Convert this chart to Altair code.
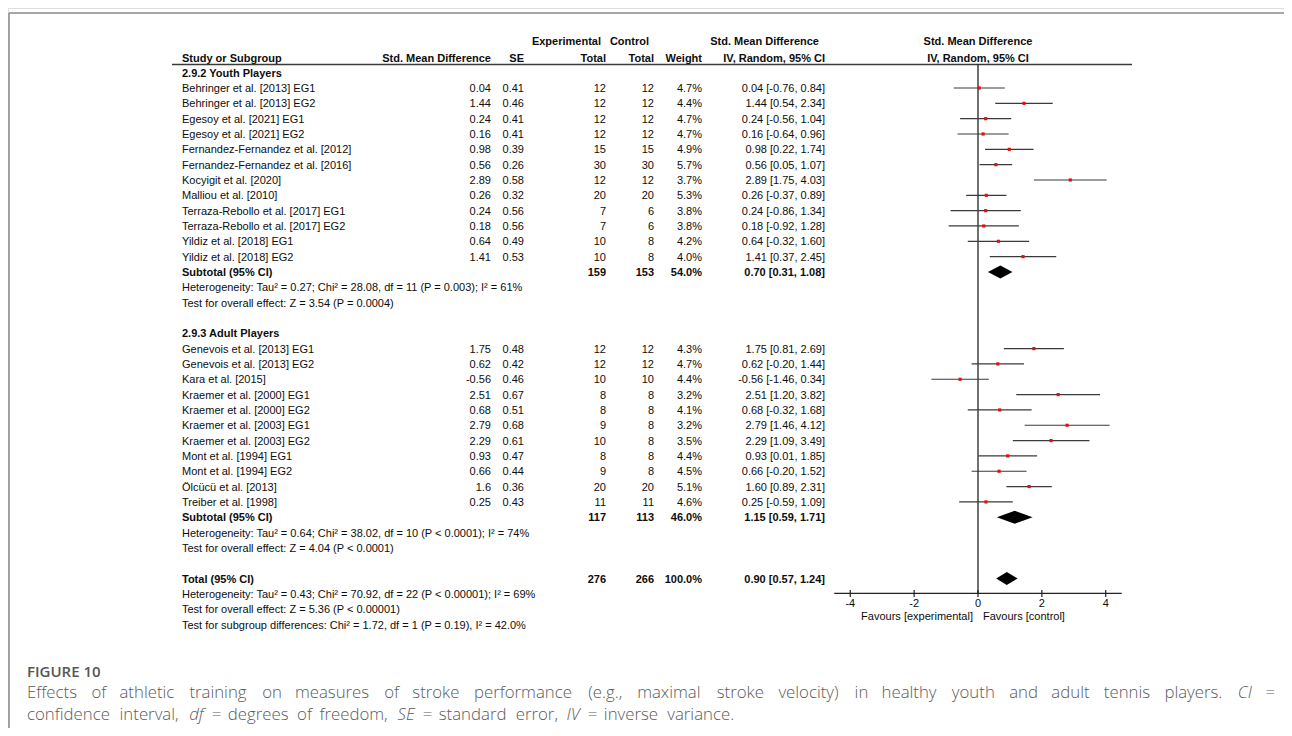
import altair as alt
import pandas as pd

# ---------------- data ----------------
youth_names = ["Behringer et al. [2013] EG1", "Behringer et al. [2013] EG2", "Egesoy et al. [2021] EG1",
               "Egesoy et al. [2021] EG2", "Fernandez-Fernandez et al. [2012]", "Fernandez-Fernandez et al. [2016]",
               "Kocyigit et al. [2020]", "Malliou et al. [2010]", "Terraza-Rebollo et al. [2017] EG1",
               "Terraza-Rebollo et al. [2017] EG2", "Yildiz et al. [2018] EG1", "Yildiz et al. [2018] EG2"]
youth_smd = [0.04, 1.44, 0.24, 0.16, 0.98, 0.56, 2.89, 0.26, 0.24, 0.18, 0.64, 1.41]
youth_se = [0.41, 0.46, 0.41, 0.41, 0.39, 0.26, 0.58, 0.32, 0.56, 0.56, 0.49, 0.53]
youth_exp_n = [12, 12, 12, 12, 15, 30, 12, 20, 7, 7, 10, 10]
youth_ctrl_n = [12, 12, 12, 12, 15, 30, 12, 20, 6, 6, 8, 8]
youth_weight = [4.7, 4.4, 4.7, 4.7, 4.9, 5.7, 3.7, 5.3, 3.8, 3.8, 4.2, 4.0]
youth_lo = [-0.76, 0.54, -0.56, -0.64, 0.22, 0.05, 1.75, -0.37, -0.86, -0.92, -0.32, 0.37]
youth_hi = [0.84, 2.34, 1.04, 0.96, 1.74, 1.07, 4.03, 0.89, 1.34, 1.28, 1.60, 2.45]

adult_names = ["Genevois et al. [2013] EG1", "Genevois et al. [2013] EG2", "Kara et al. [2015]",
               "Kraemer et al. [2000] EG1", "Kraemer et al. [2000] EG2", "Kraemer et al. [2003] EG1",
               "Kraemer et al. [2003] EG2", "Mont et al. [1994] EG1", "Mont et al. [1994] EG2",
               "Ölcücü et al. [2013]", "Treiber et al. [1998]"]
adult_smd = [1.75, 0.62, -0.56, 2.51, 0.68, 2.79, 2.29, 0.93, 0.66, 1.6, 0.25]
adult_se = [0.48, 0.42, 0.46, 0.67, 0.51, 0.68, 0.61, 0.47, 0.44, 0.36, 0.43]
adult_exp_n = [12, 12, 10, 8, 8, 9, 10, 8, 9, 20, 11]
adult_ctrl_n = [12, 12, 10, 8, 8, 8, 8, 8, 8, 20, 11]
adult_weight = [4.3, 4.7, 4.4, 3.2, 4.1, 3.2, 3.5, 4.4, 4.5, 5.1, 4.6]
adult_lo = [0.81, -0.20, -1.46, 1.20, -0.32, 1.46, 1.09, 0.01, -0.20, 0.89, -0.59]
adult_hi = [2.69, 1.44, 0.34, 3.82, 1.68, 4.12, 3.49, 1.85, 1.52, 2.31, 1.09]

summary_labels = ["Subtotal (95% CI)", "Subtotal (95% CI)", "Total (95% CI)"]
summary_exp_n = [159, 117, 276]
summary_ctrl_n = [153, 113, 266]
summary_weight = [54.0, 46.0, 100.0]
summary_est = [0.70, 1.15, 0.90]
summary_lo = [0.31, 0.59, 0.57]
summary_hi = [1.08, 1.71, 1.24]

group_labels = ["2.9.2 Youth Players", "2.9.3 Adult Players"]
stat_lines = [
    "Heterogeneity: Tau² = 0.27; Chi² = 28.08, df = 11 (P = 0.003); I² = 61%",
    "Test for overall effect: Z = 3.54 (P = 0.0004)",
    "Heterogeneity: Tau² = 0.64; Chi² = 38.02, df = 10 (P < 0.0001); I² = 74%",
    "Test for overall effect: Z = 4.04 (P < 0.0001)",
    "Heterogeneity: Tau² = 0.43; Chi² = 70.92, df = 22 (P < 0.00001); I² = 69%",
    "Test for overall effect: Z = 5.36 (P < 0.00001)",
    "Test for subgroup differences: Chi² = 1.72, df = 1 (P = 0.19), I² = 42.0%",
]
axis_ticks = [-4, -2, 0, 2, 4]
axis_extent = [-4.5, 4.5]

caption_label = "FIGURE 10"
caption_line1 = "Effects of athletic training on measures of stroke performance (e.g., maximal stroke velocity) in healthy youth and adult tennis players. *CI* ="
caption_line2 = "confidence interval, *df* = degrees of freedom, *SE* = standard error, *IV* = inverse variance."

# ---------------- layout ----------------
W, H = 1276, 720
Y0, STEP = 80.0, 15.33
FONT = "Liberation Sans"
TXT = "#0d0d0d"
XS = alt.Scale(domain=[-4.5, 4.5], range=[826.3, 1113.7])
YS = alt.Scale(domain=[-1, 35], range=[Y0 - STEP, Y0 + 35 * STEP])
PX = alt.Scale(domain=[0, W], range=[0, W])
PY = alt.Scale(domain=[0, H], range=[0, H])

youth_rows = list(range(0, 12))
adult_rows = list(range(17, 28))
summary_rows = [12, 28, 32]
group_rows = [-1, 16]
stat_rows = [13, 14, 29, 30, 33, 34, 35]

studies = pd.DataFrame({
    "row": youth_rows + adult_rows,
    "name": youth_names + adult_names,
    "smd": youth_smd + adult_smd,
    "se": youth_se + adult_se,
    "en": youth_exp_n + adult_exp_n,
    "cn": youth_ctrl_n + adult_ctrl_n,
    "w": youth_weight + adult_weight,
    "lo": youth_lo + adult_lo,
    "hi": youth_hi + adult_hi,
})
studies["smd_s"] = studies["smd"].map(lambda v: str(v))
studies["se_s"] = studies["se"].map(lambda v: f"{v:.2f}")
studies["w_s"] = studies["w"].map(lambda v: f"{v:.1f}%")
studies["ci_s"] = [f"{a:.2f} [{b:.2f}, {c:.2f}]" for a, b, c in zip(studies.smd, studies.lo, studies.hi)]

summ = pd.DataFrame({
    "row": summary_rows, "name": summary_labels, "en": summary_exp_n, "cn": summary_ctrl_n,
    "w_s": [f"{v:.1f}%" for v in summary_weight],
    "ci_s": [f"{a:.2f} [{b:.2f}, {c:.2f}]" for a, b, c in zip(summary_est, summary_lo, summary_hi)],
})
groups = pd.DataFrame({"row": group_rows, "name": group_labels})
stats = pd.DataFrame({"row": stat_rows, "name": stat_lines})

dia = []
for i, (r, e, lo, hi) in enumerate(zip(summary_rows, summary_est, summary_lo, summary_hi)):
    dia += [{"g": i, "x": lo, "top": r, "bot": r},
            {"g": i, "x": e, "top": r - 0.42, "bot": r + 0.42},
            {"g": i, "x": hi, "top": r, "bot": r}]
dia = pd.DataFrame(dia)

DUMMY = pd.DataFrame({"a": [0]})


def col(df, field, x, align, bold=False):
    return alt.Chart(df).mark_text(
        align=align, baseline="middle", dy=1, font=FONT, fontSize=11,
        fontWeight="bold" if bold else "normal", color=TXT
    ).encode(x=alt.value(x), y=alt.Y("row:Q", scale=YS, axis=None), text=f"{field}:N")


def label(text, x, y, align="left", bold=True, size=11, font=FONT, color=TXT):
    return alt.Chart(DUMMY).mark_text(
        text=text, align=align, baseline="middle", font=font, fontSize=size,
        fontWeight="bold" if bold else "normal", color=color
    ).encode(x=alt.value(x), y=alt.value(y))


layers = []

# frame
layers.append(alt.Chart(DUMMY).mark_rule(color="#8a8a8a", strokeWidth=1.5).encode(
    x=alt.value(1), x2=alt.value(W), y=alt.value(5)))
layers.append(alt.Chart(DUMMY).mark_rule(color="#8a8a8a", strokeWidth=1.5).encode(
    x=alt.value(1), y=alt.value(5), y2=alt.value(H)))

# headers
HY1, HY2 = 34, 50.5
layers += [
    label("Experimental", 593, HY1, "right"),
    label("Control", 641, HY1, "right"),
    label("Std. Mean Difference", 811, HY1, "right"),
    label("Std. Mean Difference", 970, HY1, "center"),
    label("Study or Subgroup", 174, HY2),
    label("Std. Mean Difference", 483, HY2, "right"),
    label("SE", 516, HY2, "right"),
    label("Total", 598, HY2, "right"),
    label("Total", 646, HY2, "right"),
    label("Weight", 694, HY2, "right"),
    label("IV, Random, 95% CI", 817, HY2, "right"),
    label("IV, Random, 95% CI", 970, HY2, "center"),
]
layers.append(alt.Chart(DUMMY).mark_rule(color="#3a3a3a", strokeWidth=1.5).encode(
    x=alt.value(164), x2=alt.value(1124), y=alt.value(56.5)))

# study rows
layers += [
    col(studies, "name", 174, "left"),
    col(studies, "smd_s", 483, "right"),
    col(studies, "se_s", 516, "right"),
    col(studies, "en", 598, "right"),
    col(studies, "cn", 646, "right"),
    col(studies, "w_s", 694, "right"),
    col(studies, "ci_s", 817, "right"),
]
# summary rows
layers += [
    col(summ, "name", 174, "left", True),
    col(summ, "en", 598, "right", True),
    col(summ, "cn", 646, "right", True),
    col(summ, "w_s", 694, "right", True),
    col(summ, "ci_s", 817, "right", True),
    col(groups, "name", 174, "left", True),
    col(stats, "name", 174, "left"),
]

# forest
zero = pd.DataFrame({"x": [0]})
layers.append(alt.Chart(zero).mark_rule(color="#111", strokeWidth=1.2).encode(
    x=alt.X("x:Q", scale=XS, axis=None), y=alt.value(56.5), y2=alt.value(585.3)))
layers.append(alt.Chart(studies).mark_rule(color="#3a3a3a", strokeWidth=1.2).encode(
    x=alt.X("lo:Q", scale=XS, axis=None), x2="hi:Q", y=alt.Y("row:Q", scale=YS, axis=None)))
layers.append(alt.Chart(studies).mark_square(color="#e01010", size=10, opacity=1).encode(
    x=alt.X("smd:Q", scale=XS, axis=None), y=alt.Y("row:Q", scale=YS, axis=None)))
layers.append(alt.Chart(dia).mark_area(color="#000000", opacity=1).encode(
    x=alt.X("x:Q", scale=XS, axis=None), y=alt.Y("top:Q", scale=YS, axis=None), y2="bot:Q",
    detail="g:N"))

# manual axis
ax_line = pd.DataFrame({"a": [axis_extent[0]], "b": [axis_extent[1]]})
layers.append(alt.Chart(ax_line).mark_rule(color="#222", strokeWidth=1.2).encode(
    x=alt.X("a:Q", scale=XS, axis=None), x2="b:Q", y=alt.value(585.3)))
ticks = pd.DataFrame({"t": axis_ticks, "lab": [str(t) for t in axis_ticks]})
layers.append(alt.Chart(ticks).mark_rule(color="#222", strokeWidth=1.2).encode(
    x=alt.X("t:Q", scale=XS, axis=None), y=alt.value(582), y2=alt.value(589)))
layers.append(alt.Chart(ticks).mark_text(font=FONT, fontSize=11, color=TXT, baseline="middle").encode(
    x=alt.X("t:Q", scale=XS, axis=None), y=alt.value(595.5), text="lab:N"))
layers.append(label("Favours [experimental]", 965, 609, "right", bold=False))
layers.append(label("Favours [control]", 975, 609, "left", bold=False))

# caption (justified first line)
OSW = {' ': 260, '!': 267, '(': 296, ')': 296, ',': 245, '-': 322, '.': 266, '=': 571, ':': 266, ';': 266,
       'A': 633, 'B': 648, 'C': 631, 'D': 729, 'E': 556, 'F': 516, 'G': 728, 'H': 738, 'I': 279, 'J': 267,
       'K': 614, 'L': 519, 'M': 903, 'N': 754, 'O': 779, 'P': 602, 'Q': 779, 'R': 618, 'S': 549, 'T': 553,
       'U': 729, 'V': 595, 'W': 907, 'X': 577, 'Y': 560, 'Z': 559,
       'a': 556, 'b': 613, 'c': 480, 'd': 613, 'e': 561, 'f': 339, 'g': 548, 'h': 614, 'i': 258, 'j': 258,
       'k': 539, 'l': 258, 'm': 932, 'n': 614, 'o': 600, 'p': 613, 'q': 613, 'r': 408, 's': 479, 't': 352,
       'u': 614, 'v': 501, 'w': 778, 'x': 517, 'y': 501, 'z': 468}
CFS = 16.8
CX0, CX1 = 19, 1267


def tw(s):
    return sum(OSW.get(c, 572) for c in s) / 1000 * CFS


def words(line):
    out = []
    for wd in line.split(" "):
        it = wd.startswith("*")
        out.append((wd.replace("*", ""), it))
    return out


cap = []
w1 = words(caption_line1)
nat = sum(tw(w) for w, _ in w1)
gap = (CX1 - CX0 - nat) / (len(w1) - 1)
x = CX0
for w, it in w1:
    cap.append({"t": w, "x": x, "y": 690, "it": it})
    x += tw(w) + gap
x = CX0
for w, it in words(caption_line2):
    cap.append({"t": w, "x": x, "y": 712, "it": it})
    x += tw(w) + tw(" ") * 1.5
cap = pd.DataFrame(cap)
for style, flag in [("normal", False), ("italic", True)]:
    layers.append(alt.Chart(cap).transform_filter(alt.datum.it == flag).mark_text(
        align="left", baseline="alphabetic", font="Open Sans", fontSize=CFS, fontStyle=style,
        fontWeight=300, color="#5a5a5a").encode(
        x=alt.X("x:Q", scale=PX, axis=None), y=alt.Y("y:Q", scale=PY, axis=None), text="t:N"))
layers.append(alt.Chart(DUMMY).mark_text(
    text=caption_label, align="left", baseline="alphabetic", font="Open Sans", fontSize=15,
    fontWeight=600, color="#555555").encode(x=alt.value(19), y=alt.value(669)))

chart = alt.layer(*layers).resolve_scale(x="independent", y="independent").properties(
    width=W, height=H, autosize=alt.AutoSizeParams(type="none"), padding=0
).configure_view(strokeWidth=0).configure(background="white")

chart.save("out.html", embed_options={"renderer": "svg", "actions": False})
